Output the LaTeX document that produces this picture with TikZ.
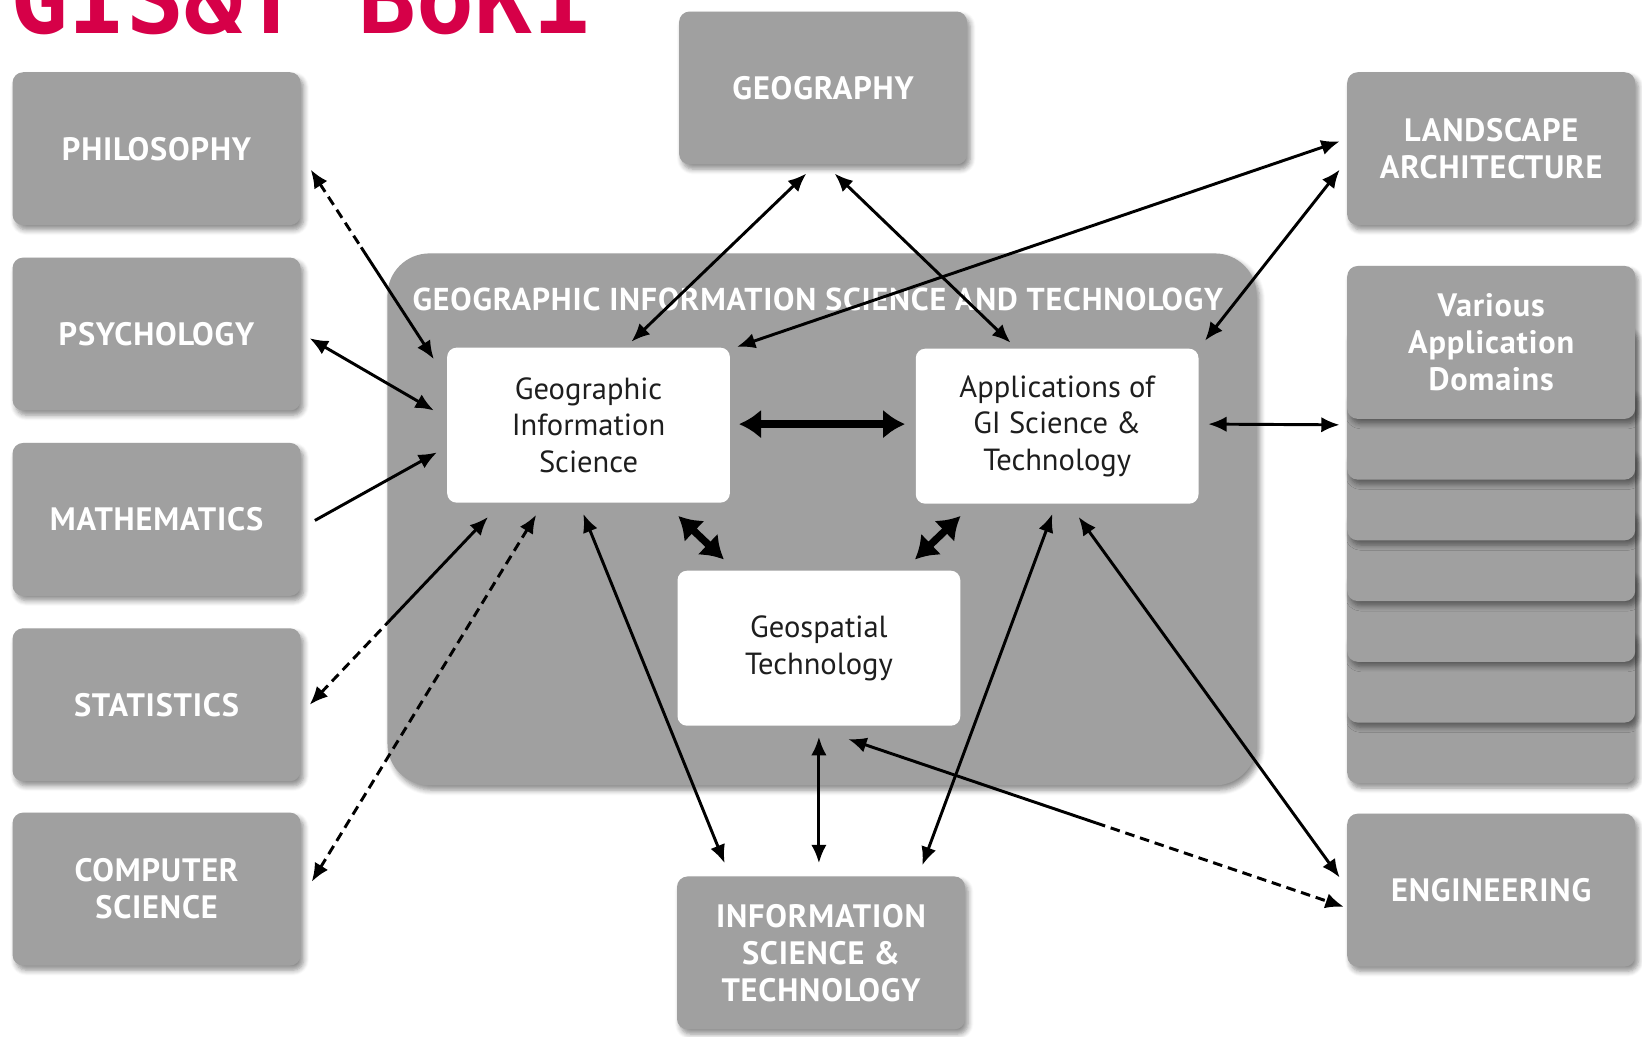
\documentclass[tikz,border=0pt]{standalone}
\usepackage{fontspec}
\setmainfont{PT Sans}
\newfontfamily\discfamily{PT Sans}[LetterSpace=2.5]
\newfontfamily\bokfont{DejaVu Sans Mono}
\usetikzlibrary{arrows.meta,calc,shadows.blur}

\definecolor{boxgray}{RGB}{160,160,160}
\definecolor{bokred}{RGB}{214,0,72}
\definecolor{boxtext}{RGB}{30,30,30}
\newcommand\discfont{\discfamily\fontsize{8.8}{10}\selectfont\bfseries}
\newcommand\corefont{\fontsize{8.3}{10}\selectfont}

\tikzset{
	boxshadow/.style={blur shadow={shadow xshift=0.3mm, shadow yshift=-0.45mm, shadow blur radius=0.5mm, shadow blur steps=6, shadow opacity=45}},
	discbox/.style={rectangle, rounded corners=1mm, fill=boxgray, text=white, font=\discfont, align=center,
		minimum width=27.5mm, minimum height=14.6mm, inner sep=1pt, boxshadow},
	corebox/.style={rectangle, rounded corners=0.9mm, fill=white, text=boxtext, font=\corefont, align=center,
		minimum width=27mm, minimum height=14.8mm, inner sep=1pt},
	link/.style={line width=0.8pt, >={Latex[length=5pt,width=4.2pt]}},
	biglink/.style={line width=2pt, >={Latex[length=6pt,width=8pt]}, <->},
	dashlink/.style={link, dash pattern=on 2.6pt off 1.6pt}
}

\begin{document}
\begin{tikzpicture}[x=0.1mm,y=-0.1mm]
		\useasboundingbox (0,0) rectangle (1568,990);
		\node[anchor=base west, inner sep=0, text=bokred, font=\bokfont\bfseries\fontsize{26.2}{30}\selectfont] (bok) at (9,32) {GIS\&T BoK1};
		
		% central frame
		\node[rectangle, rounded corners=4mm, fill=boxgray, minimum width=83mm, minimum height=50.8mm, boxshadow] (gist) at (785,496) {};
		\node[text=white, font=\discfamily\fontsize{8.6}{10}\selectfont\bfseries, inner sep=0] (gisttitle) at (781,286) {\scalebox{1.01}[1]{GEOGRAPHIC INFORMATION SCIENCE AND TECHNOLOGY}};
		
		% disciplines
		\foreach \n/\y/\t in {philo/142/PHILOSOPHY, psych/319/PSYCHOLOGY, math/496/MATHEMATICS, stat/673/STATISTICS, comp/849/{COMPUTER\\SCIENCE}}{
			\node[discbox] (\n) at (149.5,\y) {\t};
		}
		\node[discbox] (geog) at (786,84) {GEOGRAPHY};
		\node[discbox] (land) at (1424,142) {LANDSCAPE\\ARCHITECTURE};
		\foreach \i in {6,5,...,1}{
			\node[discbox] (card\i) at (1424,{327+58*\i}) {};
		}
		\node[discbox] (various) at (1424,327) {Various\\Application\\Domains};
		\node[discbox] (eng) at (1424,850) {ENGINEERING};
		\node[discbox] (info) at (784,910) {INFORMATION\\SCIENCE \&\\TECHNOLOGY};
		
		% core of gis&t
		\node[corebox] (gisci) at (562,406) {Geographic\\Information\\Science};
		\node[corebox] (apps) at (1009.5,407) {Applications of\\GI Science \&\\Technology};
		\node[corebox] (gtech) at (782,619) {Geospatial\\Technology};
		
		% left links
		\coordinate (phA) at ($(philo.east)+(9,20)$);
		\coordinate (phB) at ($(gisci.west)+(-12,-63)$);
		\draw[dashlink,<-] (phA) -- ($(phA)!0.41!(phB)$) coordinate (phM);
		\draw[link,->] (phM) -- (phB);
		\draw[link,<->] ($(psych.east)+(8,4)$) -- ($(gisci.west)+(-12,-14)$);
		\draw[link,->] ($(math.east)+(13,1)$) -- ($(gisci.west)+(-9,26)$);
		\coordinate (stA) at ($(stat.east)+(8,0)$);
		\coordinate (stB) at ($(gisci.south)+(-96,13)$);
		\draw[dashlink,<-] (stA) -- ($(stA)!0.44!(stB)$) coordinate (stM);
		\draw[link,->] (stM) -- (stB);
		\draw[dashlink,<->] ($(comp.east)+(10,-7)$) -- ($(gisci.south)+(-50,11)$);
		
		% top links
		\draw[link,<->] ($(geog.south)+(-16,8)$) -- ($(gisci.north)+(41,-5)$);
		\draw[link,<->] ($(geog.south)+(11,8)$) -- ($(apps.north)+(-44.5,-5)$);
		\draw[link,<->] ($(land.west)+(-6.5,-7)$) -- ($(gisci.north east)+(6,0)$);
		\draw[link,<->] ($(land.west)+(-6.5,20)$) -- ($(apps.north east)+(5.5,-7)$);
		
		% inner links
		\draw[biglink] ($(gisci.east)+(8,-1)$) -- ($(apps.west)+(-9.5,-2)$);
		\draw[biglink] ($(gisci.south east)+(-50,12)$) -- ($(gtech.north west)+(45,-10)$);
		\draw[biglink] ($(apps.south west)+(43.5,11)$) -- ($(gtech.north east)+(-44,-10)$);
		
		% right and bottom links
		\draw[link,<->] ($(apps.east)+(8.5,-2)$) -- ($(various.south west)+(-6.5,5)$);
		\draw[link,<->] ($(gisci.south)+(-5,10)$) -- ($(info.north)+(-92,-12)$);
		\draw[link,<->] ($(apps.south)+(-4.5,9)$) -- ($(info.north east)+(-41.5,-10)$);
		\draw[link,<->] ($(apps.south)+(20.5,12)$) -- ($(eng.west)+(-6.5,-12)$);
		\draw[link,<->] ($(gtech.south)+(0,10)$) -- ($(info.north)+(-2,-12)$);
		\coordinate (geA) at ($(gtech.south)+(28,12)$);
		\coordinate (geB) at ($(eng.west)+(-2.5,16)$);
		\draw[link,<-] (geA) -- ($(geA)!0.5!(geB)$) coordinate (geM);
		\draw[dashlink,->] (geM) -- (geB);
\end{tikzpicture}
\end{document}
